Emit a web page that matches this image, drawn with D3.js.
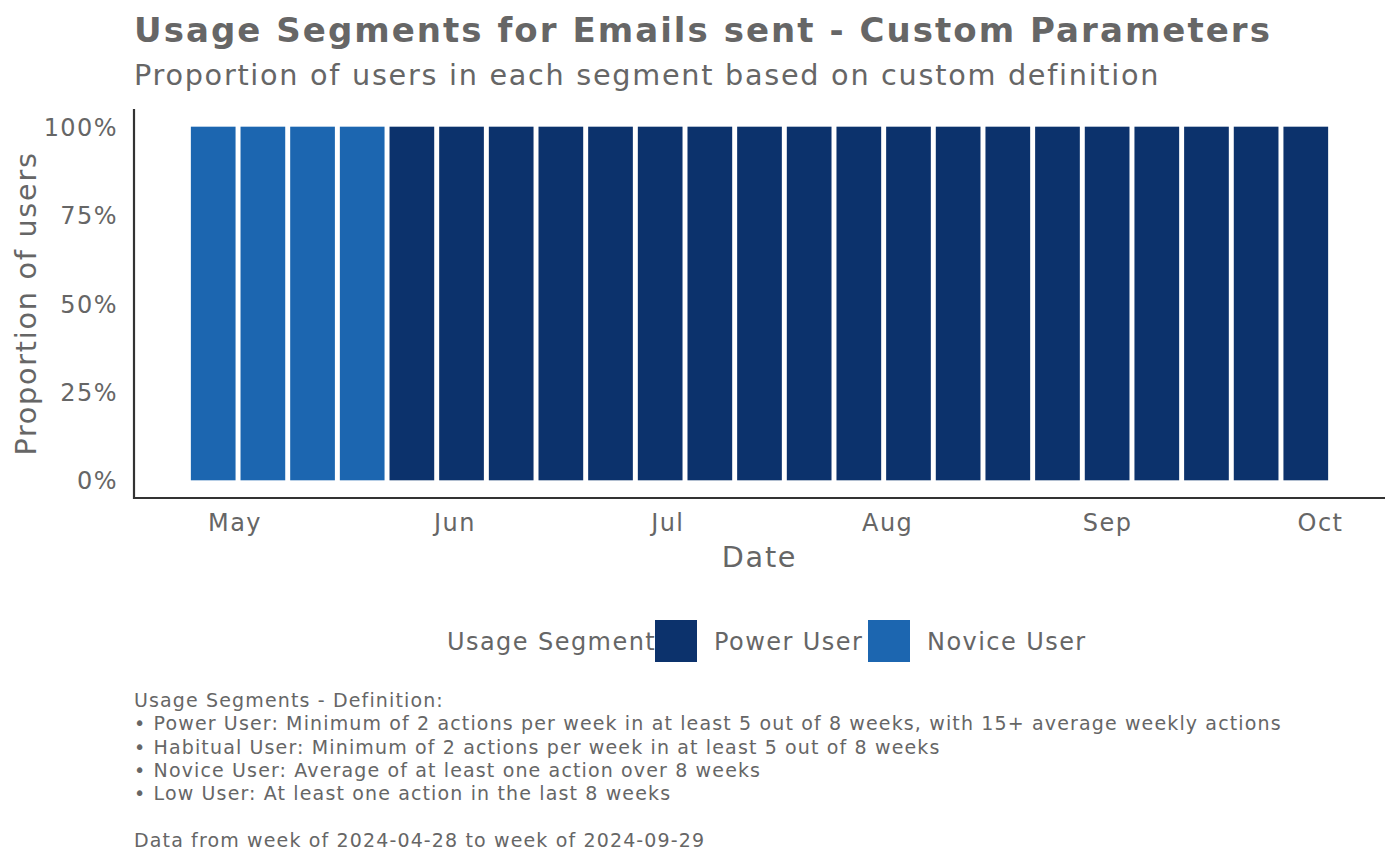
<!DOCTYPE html>
<html>
<head>
<meta charset="utf-8">
<script src="https://cdn.jsdelivr.net/npm/d3@7"></script>
<style>
  body { margin: 0; background: #fff; }
  svg { font-family: "DejaVu Sans", sans-serif; }
  svg text { letter-spacing: 0.06em; }
</style>
</head>
<body>
<div id="chart-area"></div>
<script>
// weekly data, one segment per week
const weeks = [
    "2024-04-28", "2024-05-05", "2024-05-12", "2024-05-19", "2024-05-26",
    "2024-06-02", "2024-06-09", "2024-06-16", "2024-06-23", "2024-06-30",
    "2024-07-07", "2024-07-14", "2024-07-21", "2024-07-28", "2024-08-04",
    "2024-08-11", "2024-08-18", "2024-08-25", "2024-09-01", "2024-09-08",
    "2024-09-15", "2024-09-22", "2024-09-29"
];
const segments = [
    "Novice User", "Novice User", "Novice User", "Novice User", "Power User",
    "Power User", "Power User", "Power User", "Power User", "Power User",
    "Power User", "Power User", "Power User", "Power User", "Power User",
    "Power User", "Power User", "Power User", "Power User", "Power User",
    "Power User", "Power User", "Power User"
];
const proportions = new Array(weeks.length).fill(1);
const legendSegments = ["Power User", "Novice User"];
const segmentColors = ["#0c326c", "#1c66b0"];
const yTicks = [0, 0.25, 0.5, 0.75, 1];
const monthTicks = ["2024-05-01", "2024-06-01", "2024-07-01", "2024-08-01", "2024-09-01", "2024-10-01"];
const captionLines = [
    "Usage Segments - Definition:",
    "\u2022 Power User: Minimum of 2 actions per week in at least 5 out of 8 weeks, with 15+ average weekly actions",
    "\u2022 Habitual User: Minimum of 2 actions per week in at least 5 out of 8 weeks",
    "\u2022 Novice User: Average of at least one action over 8 weeks",
    "\u2022 Low User: At least one action in the last 8 weeks"
];
const dataNote = "Data from week of 2024-04-28 to week of 2024-09-29";

const width = 1400;
const height = 866;
const textColor = "#666666";

const parse = d3.timeParse("%Y-%m-%d");
const data = weeks.map((w, i) => ({ date: parse(w), segment: segments[i], value: proportions[i] }));

const panel = { left: 134, right: 1385, top: 109, bottom: 498 };

const svg = d3.select("#chart-area").append("svg")
    .attr("width", width)
    .attr("height", height);

// x: time scale with ggplot-ish 5% expansion around bars
const dayMs = 24 * 3600 * 1000;
const barDays = 7 * 0.9;
const first = d3.min(data, d => d.date), last = d3.max(data, d => d.date);
const lo = +first - barDays / 2 * dayMs, hi = +last + barDays / 2 * dayMs;
const pad = (hi - lo) * 0.05;
const x = d3.scaleTime()
    .domain([new Date(lo - pad), new Date(hi + pad)])
    .range([panel.left, panel.right]);

const y = d3.scaleLinear()
    .domain([-0.05, 1.05])
    .range([panel.bottom, panel.top]);

const color = d3.scaleOrdinal().domain(legendSegments).range(segmentColors);

// bars
const barW = x(new Date(+first + barDays * dayMs)) - x(first);
svg.append("g")
    .selectAll("rect")
    .data(data)
    .enter()
    .append("rect")
    .attr("x", d => x(d.date) - barW / 2)
    .attr("y", d => y(d.value))
    .attr("width", barW)
    .attr("height", d => y(0) - y(d.value))
    .attr("fill", d => color(d.segment));

// axes
const yAxis = svg.append("g")
    .attr("transform", `translate(${panel.left},0)`)
    .call(d3.axisLeft(y).tickValues(yTicks).tickFormat(d3.format(".0%")).tickSize(0).tickPadding(16))
    .attr("font-family", null);
yAxis.select(".domain").remove();
yAxis.selectAll("text")
    .attr("fill", textColor)
    .attr("dy", "0.36em")
    .style("font-size", "24px");

const xAxis = svg.append("g")
    .attr("transform", `translate(0,${panel.bottom})`)
    .call(d3.axisBottom(x).tickValues(monthTicks.map(parse)).tickFormat(d3.timeFormat("%b")).tickSize(0))
    .attr("font-family", null);
xAxis.select(".domain").remove();
xAxis.selectAll("text")
    .attr("fill", textColor)
    .attr("y", 33).attr("dy", 0)
    .style("font-size", "24px");

// axis lines (L shape)
svg.append("path")
    .attr("d", `M${panel.left},${panel.top}V${panel.bottom}H${panel.right}`)
    .attr("fill", "none")
    .attr("stroke", "#333")
    .attr("stroke-width", 2.2);

// titles
svg.append("text")
    .attr("x", 134).attr("y", 42)
    .attr("fill", textColor)
    .style("font-size", "34px").style("font-weight", "bold")
    .text("Usage Segments for Emails sent - Custom Parameters");
svg.append("text")
    .attr("x", 134).attr("y", 85)
    .attr("fill", textColor)
    .style("font-size", "28.7px")
    .text("Proportion of users in each segment based on custom definition");

svg.append("text")
    .attr("transform", `translate(36,${(panel.top + panel.bottom) / 2}) rotate(-90)`)
    .attr("text-anchor", "middle")
    .attr("fill", textColor)
    .style("font-size", "28.7px")
    .text("Proportion of users");

svg.append("text")
    .attr("x", (panel.left + panel.right) / 2).attr("y", 567)
    .attr("text-anchor", "middle")
    .attr("fill", textColor)
    .style("font-size", "28.7px")
    .text("Date");

// legend
const legend = svg.append("g");
legend.append("text")
    .attr("x", 447).attr("y", 650)
    .attr("fill", textColor)
    .style("font-size", "24px")
    .text("Usage Segment");
const keyX = [655, 868];
legendSegments.forEach((s, i) => {
    legend.append("rect")
        .attr("x", keyX[i]).attr("y", 620)
        .attr("width", 42).attr("height", 42)
        .attr("fill", color(s));
    legend.append("text")
        .attr("x", keyX[i] + 59).attr("y", 650)
        .attr("fill", textColor)
        .style("font-size", "24px")
        .text(s);
});

// caption
const caption = svg.append("g");
captionLines.forEach((line, i) => {
    caption.append("text")
        .attr("x", 134).attr("y", 707 + i * 23.3)
        .attr("fill", textColor)
        .style("font-size", "19px")
        .text(line);
});
caption.append("text")
    .attr("x", 134).attr("y", 847)
    .attr("fill", textColor)
    .style("font-size", "19px")
    .text(dataNote);
</script>
</body>
</html>
